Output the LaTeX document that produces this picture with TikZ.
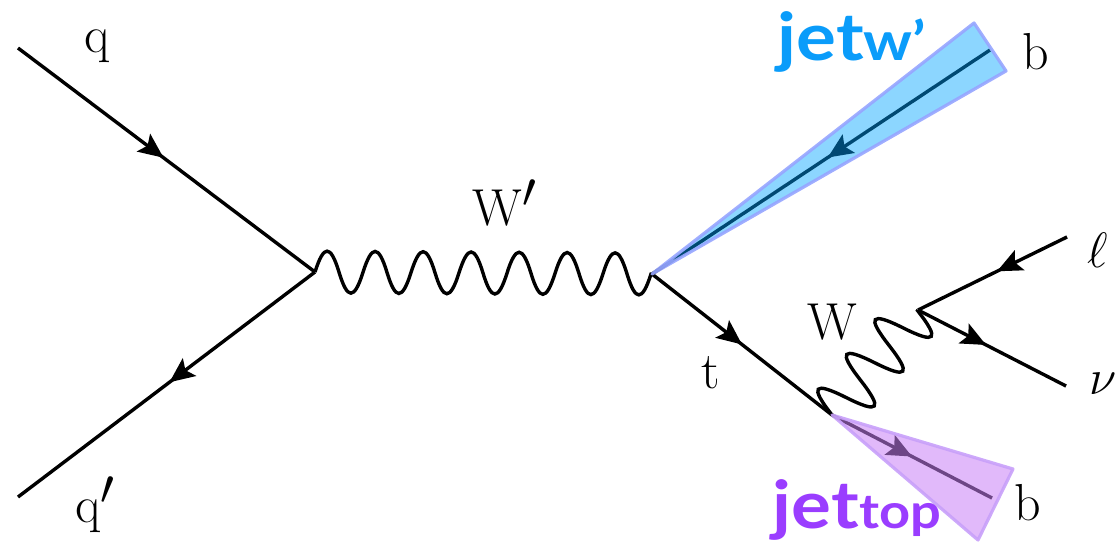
\documentclass[tikz,border=0pt]{standalone}
\usepackage{fontspec}
\newfontfamily\jetfont[BoldFeatures={FakeStretch=1.13}]{Lato}
\usetikzlibrary{arrows.meta,decorations.markings}
\definecolor{JetBlue}{HTML}{00A4FF}
\definecolor{JetBlueEdge}{HTML}{96A5FF}
\definecolor{JetBlueText}{HTML}{0A9CFA}
\definecolor{JetPurple}{HTML}{C880F5}
\definecolor{JetPurpleEdge}{HTML}{C8A0FA}
\definecolor{JetPurpleText}{HTML}{9A3DFF}
\pgfdeclaredecoration{bosonwave}{up}{
  \state{up}[switch if less than=0.4*\pgfdecorationsegmentlength to final,
             width=0.5*\pgfdecorationsegmentlength,next state=down]{
    \pgfpathcurveto{\pgfpoint{0.18*\pgfdecorationsegmentlength}{1.33*\pgfdecorationsegmentamplitude}}
                   {\pgfpoint{0.32*\pgfdecorationsegmentlength}{1.33*\pgfdecorationsegmentamplitude}}
                   {\pgfpoint{0.5*\pgfdecorationsegmentlength}{0pt}}
  }
  \state{down}[switch if less than=0.4*\pgfdecorationsegmentlength to final,
               width=0.5*\pgfdecorationsegmentlength,next state=up]{
    \pgfpathcurveto{\pgfpoint{0.18*\pgfdecorationsegmentlength}{-1.33*\pgfdecorationsegmentamplitude}}
                   {\pgfpoint{0.32*\pgfdecorationsegmentlength}{-1.33*\pgfdecorationsegmentamplitude}}
                   {\pgfpoint{0.5*\pgfdecorationsegmentlength}{0pt}}
  }
  \state{final}{\pgfpathlineto{\pgfpointdecoratedpathlast}}
}
\tikzset{
  fermion/.style={line width=1.7pt,postaction={decorate},
    decoration={markings,mark=at position #1 with {\arrow{Stealth[length=12.5pt,width=11pt,inset=2.5pt]}}}},
  fermion/.default=0.5,
  boson/.style={line width=1.7pt,decorate,
    decoration={bosonwave,segment length=24pt,amplitude=10.5pt}},
  bosonshort/.style={boson,decoration={segment length=22.5pt,amplitude=13.5pt}},
  bluecone/.style={fill=JetBlue,fill opacity=0.45,draw=JetBlueEdge,draw opacity=0.9,line width=1.6pt,line join=round},
  purplecone/.style={fill=JetPurple,fill opacity=0.55,draw=JetPurpleEdge,draw opacity=0.9,line width=1.6pt,line join=round},
  particle/.style={text=black,font=\fontsize{26}{30}\selectfont,inner sep=0pt},
  jetname/.style={font=\jetfont\bfseries\fontsize{33}{38}\selectfont,inner sep=0pt},
}
\begin{document}
\begin{tikzpicture}[x=0.5pt,y=-0.5pt]
    \useasboundingbox (0,0) rectangle (1118,541);
    \coordinate (qin) at (18,48);
    \coordinate (qbar) at (18,497);
    \coordinate (prod) at (315,272);
    \coordinate (decay) at (652,274);
    \coordinate (tdecay) at (832,415);
    \coordinate (wdecay) at (918,310);
    \coordinate (lep) at (1067,237);
    \coordinate (nu) at (1066,386);
    \coordinate (bw) at (990,50);
    \coordinate (btop) at (992,498);
    \coordinate (bwa) at (974,23);
    \coordinate (bwb) at (1006,71);
    \coordinate (btopa) at (1013,469);
    \coordinate (btopb) at (978,540);

    \draw[fermion=0.49] (qin) -- (prod);
    \draw[fermion=0.49] (prod) -- (qbar);
    \draw[boson] (prod) -- (decay);
    \draw[fermion=0.5] (decay) -- (tdecay);
    \draw[bosonshort] (tdecay) -- (wdecay);
    \draw[fermion=0.47] (lep) -- (wdecay);
    \draw[fermion=0.46] (wdecay) -- (nu);
    \draw[fermion=0.48] (bw) -- (decay);
    \draw[fermion=0.5] (tdecay) -- (btop);

    \path[bluecone] (decay) -- (bwa) -- (bwb) -- cycle;
    \path[purplecone] (tdecay) -- (btopa) -- (btopb) -- cycle;

    \node[particle] (qlabel) at (97,46) {q};
    \node[particle] (qbarlabel) at (95,505) {q$^{\textstyle\prime}$};
    \node[particle] (wplabel) at (505,203) {W$^{\textstyle\prime}$};
    \node[particle] (tlabel) at (711,373) {t};
    \node[particle] (wlabel) at (832,322) {W};
    \node[particle] (leplabel) at (1098,250) {$\ell$};
    \node[particle] (nulabel) at (1103,384) {$\nu$};
    \node[particle] (blabel) at (1036,52) {b};
    \node[particle] (btoplabel) at (1028,503) {b};
    \node[jetname,text=JetBlueText] (jetw) at (852,42) {jet{\fontsize{27}{30}\selectfont w’}};
    \node[jetname,text=JetPurpleText] (jettop) at (857,510) {jet{\fontsize{24}{27}\selectfont top}};
\end{tikzpicture}
\end{document}
